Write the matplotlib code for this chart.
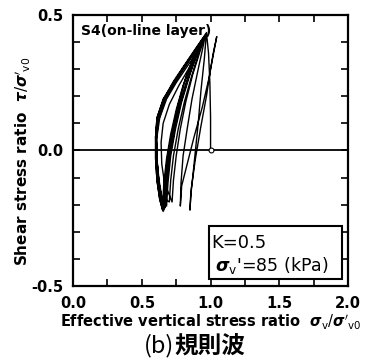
import matplotlib.pyplot as plt
from matplotlib.patches import Rectangle

# 応力経路 (読み取り値)  x: σv'/σ'v0, y: τ/σ'v0
sv_ratio = [
    1.00, 1.00, 0.995, 0.985, 0.97,                                   # 初期載荷
    0.955, 0.93, 0.91, 0.89, 0.87, 0.855, 0.85,                       # 除荷1
    0.86, 0.89, 0.93, 0.97, 1.00, 1.03, 1.045,                        # 再載荷1
    1.02, 0.99, 0.94, 0.88, 0.83, 0.79, 0.78,                         # 除荷2
    0.785, 0.80, 0.83, 0.865, 0.91, 0.94, 0.96,                       # 再載荷2
    0.92, 0.85, 0.77, 0.70, 0.655, 0.64, 0.645, 0.665, 0.72,          # 除荷3
    0.73, 0.75, 0.78, 0.82, 0.87, 0.92, 0.95,                         # 再載荷3
    0.89, 0.81, 0.73, 0.665, 0.62, 0.605, 0.61, 0.625, 0.65, 0.68,    # 除荷4
    0.69, 0.71, 0.745, 0.79, 0.85, 0.91, 0.97,                        # 再載荷4
    0.89, 0.81, 0.73, 0.655, 0.61, 0.60, 0.60, 0.61, 0.63, 0.655,     # 除荷5
    0.665, 0.685, 0.72, 0.765, 0.82, 0.88, 0.93,                      # 再載荷5
    0.87, 0.79, 0.72, 0.66, 0.62, 0.605, 0.61, 0.625, 0.645, 0.67,    # 除荷6
    0.68, 0.70, 0.735, 0.78, 0.84, 0.91, 0.965,                       # 再載荷6
    0.89, 0.81, 0.73, 0.66, 0.615, 0.60, 0.605, 0.62, 0.64, 0.66,     # 除荷7
    0.67, 0.695, 0.73, 0.78, 0.84, 0.90, 0.94,                        # 再載荷7
    0.88, 0.80, 0.725, 0.66, 0.62, 0.605, 0.61, 0.625, 0.645, 0.70,   # 除荷8
    0.71, 0.73, 0.765, 0.81, 0.86, 0.92, 0.96,                        # 再載荷8
    0.89, 0.81, 0.73, 0.655, 0.61, 0.60, 0.60, 0.61, 0.63, 0.65,      # 除荷9
    0.66, 0.68, 0.71, 0.75, 0.80, 0.86, 0.90,                         # 再載荷9
    0.83, 0.75, 0.68, 0.63, 0.61, 0.61, 0.62, 0.64, 0.665,            # 除荷10
    0.675, 0.70, 0.73,                                                # 終了
]
tau_ratio = [
    0.00, 0.12, 0.25, 0.36, 0.435,
    0.34, 0.22, 0.10, 0.00, -0.10, -0.17, -0.22,
    -0.14, -0.03, 0.09, 0.20, 0.30, 0.38, 0.42,
    0.36, 0.27, 0.16, 0.05, -0.05, -0.13, -0.205,
    -0.12, -0.02, 0.08, 0.19, 0.30, 0.37, 0.42,
    0.37, 0.31, 0.24, 0.17, 0.10, 0.03, -0.05, -0.12, -0.19,
    -0.11, -0.02, 0.08, 0.18, 0.28, 0.36, 0.41,
    0.365, 0.31, 0.245, 0.18, 0.11, 0.04, -0.04, -0.12, -0.19, -0.205,
    -0.12, -0.02, 0.08, 0.18, 0.28, 0.37, 0.43,
    0.37, 0.31, 0.25, 0.19, 0.12, 0.05, -0.03, -0.11, -0.18, -0.225,
    -0.13, -0.03, 0.07, 0.17, 0.27, 0.35, 0.40,
    0.35, 0.29, 0.235, 0.175, 0.11, 0.04, -0.04, -0.12, -0.18, -0.21,
    -0.12, -0.03, 0.07, 0.17, 0.27, 0.37, 0.43,
    0.375, 0.315, 0.255, 0.19, 0.125, 0.05, -0.03, -0.11, -0.18, -0.22,
    -0.12, -0.02, 0.08, 0.18, 0.28, 0.36, 0.41,
    0.365, 0.305, 0.245, 0.18, 0.115, 0.045, -0.03, -0.11, -0.17, -0.19,
    -0.11, -0.02, 0.08, 0.18, 0.27, 0.37, 0.425,
    0.37, 0.31, 0.25, 0.185, 0.12, 0.05, -0.03, -0.11, -0.18, -0.22,
    -0.12, -0.03, 0.06, 0.15, 0.24, 0.32, 0.36,
    0.31, 0.25, 0.19, 0.12, 0.05, -0.03, -0.11, -0.18, -0.215,
    -0.12, -0.03, 0.05,
]

x_ticks = [0.0, 0.5, 1.0, 1.5, 2.0]
y_ticks = [-0.5, 0.0, 0.5]
x_labels = ["0.0", "0.5", "1.0", "1.5", "2.0"]
y_labels = ["-0.5", "0.0", "0.5"]

plt.rcParams['mathtext.fontset'] = 'dejavusans'

fig = plt.figure(figsize=(3.75, 3.63), dpi=100)
ax = fig.add_axes([0.195, 0.212, 0.733, 0.747])

# ゼロ線と応力経路
ax.axhline(0.0, color='black', lw=1.3, zorder=2)
ax.plot(sv_ratio, tau_ratio, color='black', lw=1.0, zorder=3)
ax.plot([1.0], [0.0], marker='o', ms=3.5, mfc='white', mec='black', mew=0.8, zorder=4)

ax.set_xlim(0, 2.0)
ax.set_ylim(-0.5, 0.5)
ax.set_xticks(x_ticks)
ax.set_xticklabels(x_labels, fontsize=10.5, fontweight='bold')
ax.set_yticks(y_ticks)
ax.set_yticklabels(y_labels, fontsize=10.5, fontweight='bold')
ax.set_xticks([0.25, 0.75, 1.25, 1.75], minor=True)
ax.set_yticks([-0.4, -0.3, -0.2, -0.1, 0.1, 0.2, 0.3, 0.4], minor=True)
ax.tick_params(which='both', direction='in', top=True, right=True, width=1.2)
ax.tick_params(which='major', length=5, pad=7)
ax.tick_params(which='minor', length=5)
for s in ax.spines.values():
    s.set_linewidth(1.6)

ax.set_xlabel(r"Effective vertical stress ratio  $\boldsymbol{\sigma}_{\mathrm{v}}/\boldsymbol{\sigma}'_{\mathrm{v0}}$",
              fontsize=10.5, fontweight='bold')
ax.xaxis.set_label_coords(0.5, -0.1)
ax.set_ylabel(r"Shear stress ratio  $\boldsymbol{\tau}/\boldsymbol{\sigma}'_{\mathrm{v0}}$",
              fontsize=11, fontweight='bold')
ax.yaxis.set_label_coords(-0.145, 0.46)

ax.text(0.03, 0.965, "S4(on-line layer)", transform=ax.transAxes,
        fontsize=10, fontweight='bold', va='top', ha='left')

# 条件の枠
ax.add_patch(Rectangle((0.495, 0.026), 0.483, 0.195, transform=ax.transAxes,
                       fill=False, ec='black', lw=1.5, zorder=5))
ax.text(0.503, 0.16, "K=0.5", transform=ax.transAxes, fontsize=13, va='center')
ax.text(0.515, 0.075, r"$\boldsymbol{\sigma}_{\mathrm{v}}$'=85 (kPa)", transform=ax.transAxes,
        fontsize=12.5, va='center')

cjk = ['Noto Sans CJK JP', 'DejaVu Sans']
fig.text(0.464, 0.048, "(b)", ha='right', va='center', fontsize=17,
         family=cjk, fontweight='normal')
fig.text(0.466, 0.048, "規則波", ha='left', va='center', fontsize=17,
         family=cjk, fontweight='bold')

fig.savefig("out.png", dpi=100)
